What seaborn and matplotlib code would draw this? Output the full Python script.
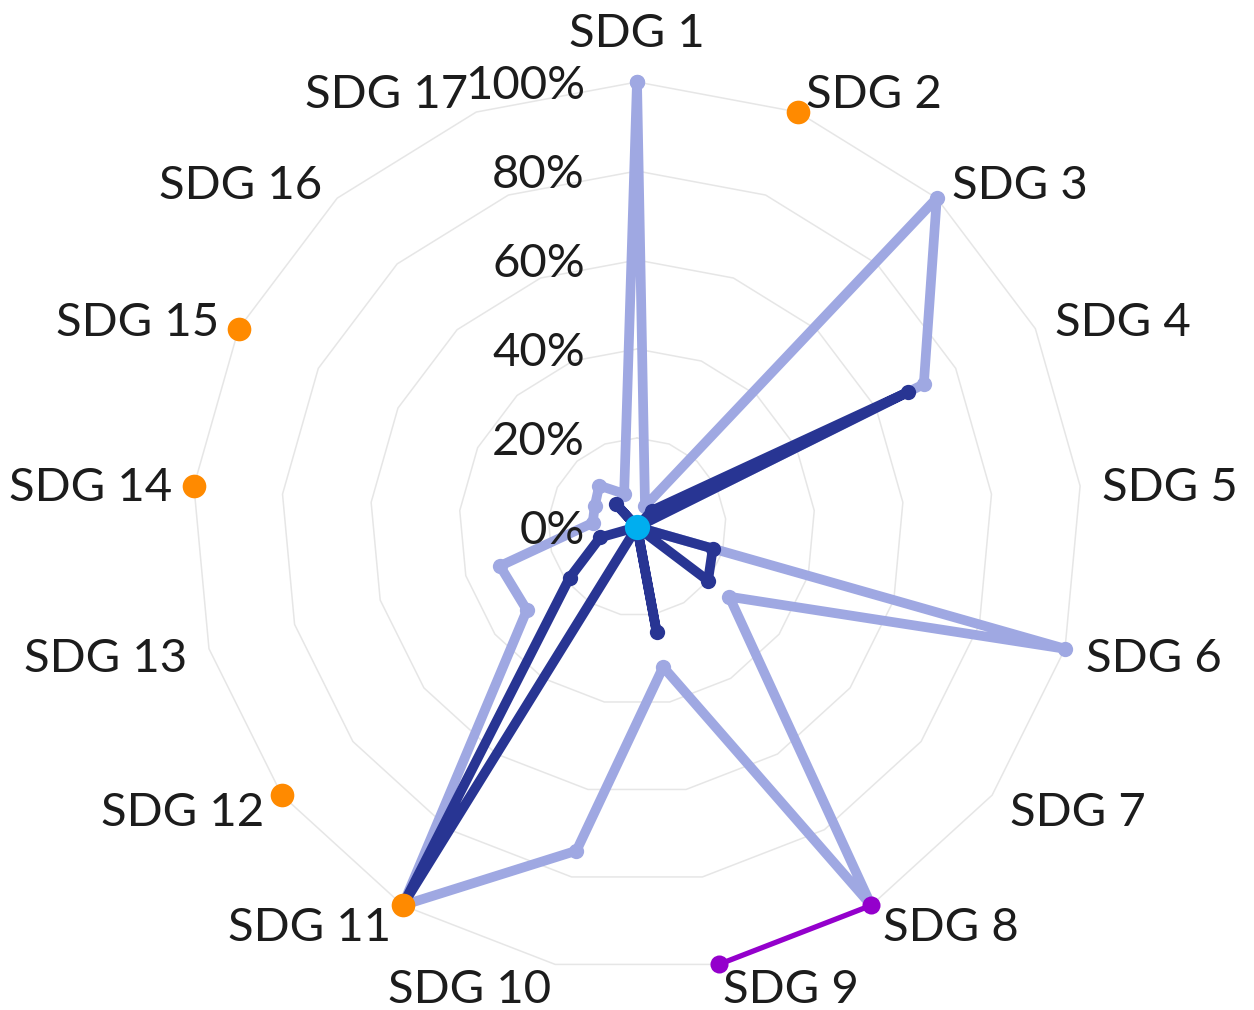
import numpy as np
import pandas as pd
import matplotlib
matplotlib.use("Agg")
import matplotlib.pyplot as plt
import matplotlib.transforms as mtransforms
import seaborn as sns

# ===============================
# 1. DATA (values in %)
# ===============================
sdg_labels = ["SDG 1", "SDG 2", "SDG 3", "SDG 4", "SDG 5", "SDG 6", "SDG 7", "SDG 8", "SDG 9",
              "SDG 10", "SDG 11", "SDG 12", "SDG 13", "SDG 14", "SDG 15", "SDG 16", "SDG 17"]
tick_values = [0, 20, 40, 60, 80, 100]
tick_labels = ["0%", "20%", "40%", "60%", "80%", "100%"]

light_values = [100, 5, 100, 72, 0, 100, 26, 100, 32, 74, 100, 31, 32, 10, 10.6, 12.6, 8]
dark_values = [0, 0, 5, 68, 0, 17.7, 20, 0, 24, 0, 100, 19, 8.6, 0, 0, 7, 0]
purple_values = [None, None, None, None, None, None, None, 100, 100,
                 None, None, None, None, None, None, None, None]
orange_values = [None, 100, None, None, None, None, None, None, None,
                 None, 100, 100, None, 100, 100, None, None]
center_values = [0]

# ===============================
# 2. BUILD FRAMES
# ===============================
theta = np.linspace(0, 2 * np.pi, len(sdg_labels), endpoint=False)


def closed_frame(values):
    # repeat the first point so the loop closes
    return pd.DataFrame({"theta": np.append(theta, 2 * np.pi),
                         "r": list(values) + [values[0]]})


def open_frame(values):
    df = pd.DataFrame({"theta": theta, "r": pd.to_numeric(pd.Series(values), errors="coerce")})
    return df.dropna()


light_df = closed_frame(light_values)
dark_df = closed_frame(dark_values)
purple_df = open_frame(purple_values)
orange_df = open_frame(orange_values)
center_df = pd.DataFrame({"theta": theta[:len(center_values)], "r": center_values})

# ===============================
# 3. PLOT
# ===============================
sns.set_theme(style="white")
plt.rcParams["font.family"] = ["Lato", "DejaVu Sans"]

fig = plt.figure(figsize=(12.54, 10.10), dpi=100)
ax = fig.add_axes([192 / 1254, 38 / 1010, 890 / 1254, 890 / 1010], projection="polar")
ax.set_theta_zero_location("N")
ax.set_theta_direction(-1)

# polygon grid
for level in tick_values[1:]:
    ax.plot(np.append(theta, 2 * np.pi), [level] * (len(theta) + 1),
            color="#e6e6e6", linewidth=1.1, zorder=1, clip_on=False)

line_kws = dict(sort=False, estimator=None, marker="o", markeredgewidth=0,
                solid_capstyle="round", solid_joinstyle="round", clip_on=False, ax=ax)
sns.lineplot(data=light_df, x="theta", y="r", color="#9FA8E2", linewidth=7,
             markersize=11, zorder=2, **line_kws)
sns.lineplot(data=dark_df, x="theta", y="r", color="#283593", linewidth=7,
             markersize=11, zorder=3, **line_kws)
sns.lineplot(data=purple_df, x="theta", y="r", color="#9400CC", linewidth=3.8,
             markersize=13, zorder=4, **line_kws)
sns.scatterplot(data=orange_df, x="theta", y="r", color="#FF8A00", s=290,
                linewidth=0, zorder=5, clip_on=False, ax=ax)
sns.scatterplot(data=center_df, x="theta", y="r", color="#00AEEF", s=330,
                linewidth=0, zorder=6, clip_on=False, ax=ax)

ax.set_ylim(0, 100)
ax.set_xticks([])
ax.set_yticks([])
ax.grid(False)
ax.spines["polar"].set_visible(False)
ax.set_xlabel("")
ax.set_ylabel("")

# category labels around the outside
for t, lab in zip(theta, sdg_labels):
    s = np.sin(t)
    if s > 0.05:
        ha, va, r = "left", "center_baseline", 105
    elif s < -0.05:
        ha, va, r = "right", "center_baseline", 105
    else:
        ha, va, r = "center", "bottom", 106
    ax.text(t, r, lab, ha=ha, va=va, fontsize=34, color="#1c1c1c", zorder=7)

# radial tick labels left of the top spoke
trans = mtransforms.offset_copy(ax.transData, fig=fig, x=-52, y=0, units="dots")
for v, lab in zip(tick_values, tick_labels):
    ax.text(0, v, lab, transform=trans, ha="right", va="center_baseline",
            fontsize=34, color="#1c1c1c", zorder=7)

fig.savefig("out.png", dpi=100, facecolor="white")
